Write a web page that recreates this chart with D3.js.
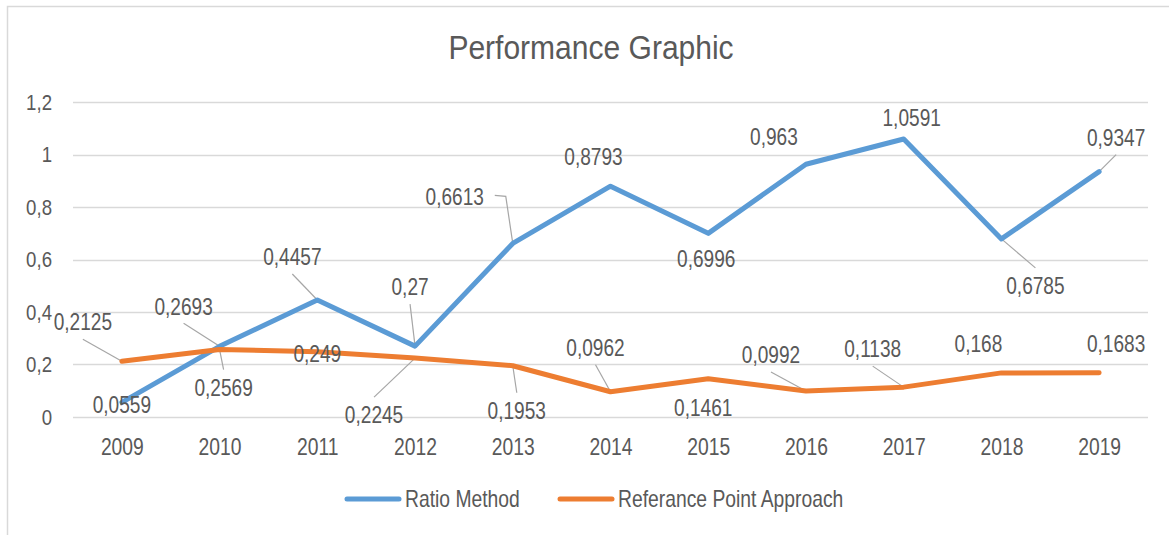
<!DOCTYPE html>
<html>
<head>
<meta charset="utf-8">
<script src="https://cdn.jsdelivr.net/npm/d3@7/dist/d3.min.js"></script>
<style>
  html, body { margin: 0; padding: 0; background: #fff; }
  svg { display: block; }
  text { font-family: "Liberation Sans", Arial, sans-serif; fill: #595959; }
</style>
</head>
<body>
<svg id="chart" width="1169" height="535"></svg>
<script>
// ---- data ----
const years = ["2009","2010","2011","2012","2013","2014","2015","2016","2017","2018","2019"];
const ratioMethod = [0.0559, 0.2693, 0.4457, 0.27, 0.6613, 0.8793, 0.6996, 0.963, 1.0591, 0.6785, 0.9347];
const referencePoint = [0.2125, 0.2569, 0.249, 0.2245, 0.1953, 0.0962, 0.1461, 0.0992, 0.1138, 0.168, 0.1683];
const yTicks = [0, 0.2, 0.4, 0.6, 0.8, 1, 1.2];
const seriesNames = ["Ratio Method", "Referance Point Approach"];
const title = "Performance Graphic";

// label placement (offset of label centre from its point, leader type: 0 none, 1 straight, 2 elbow)
const ratioLabelLayout = [
  [0, 2, 0], [-36, -40, 1], [-25, -43, 1], [-5, -59, 1], [-58, -47, 2], [-17, -29, 0],
  [-2, 25, 0], [-32, -27, 0], [8, -21, 0], [34, 47, 1], [17, -34, 1]
];
const refLabelLayout = [
  [-39, -39, 1], [4, 38, 1], [0, 2, 0], [-41, 57, 1], [4, 45, 1], [-15, -44, 1],
  [-5, 29, 0], [-35, -36, 1], [-31, -38, 1], [-23, -29, 0], [17, -29, 0]
];

const colors = ["#5B9BD5", "#ED7D31"];
const fmt = v => String(v).replace(".", ",");

const svg = d3.select("#chart");

// frame
svg.append("rect").attr("x", 7.5).attr("y", 6.5).attr("width", 1200).attr("height", 600)
  .attr("fill", "none").attr("stroke", "#d9d9d9").attr("stroke-width", 1.5);

const x = d3.scalePoint().domain(years).range([73, 1148]).padding(0.5);
const y = d3.scaleLinear().domain([0, 1.2]).range([417, 102]);

// title
svg.append("text").attr("transform", "translate(591,59) scale(0.91,1)").attr("text-anchor", "middle")
  .style("font-size", "33px").text(title);

// grid
svg.append("g").selectAll("line").data(yTicks).join("line")
  .attr("x1", 73).attr("x2", 1148)
  .attr("y1", d => Math.round(y(d)) + 0.5).attr("y2", d => Math.round(y(d)) + 0.5)
  .attr("stroke", "#d9d9d9").attr("stroke-width", 1.5);

// y axis labels
const yAxis = d3.axisLeft(y).tickValues(yTicks).tickSize(0).tickPadding(0).tickFormat(d => fmt(d));
const gy = svg.append("g").attr("transform", "translate(52,0)").call(yAxis);
gy.select(".domain").remove();
gy.selectAll("text").style("font-size", "23px").attr("fill", "#595959").attr("font-family", null)
  .attr("transform", "scale(0.81,1)");

// x axis labels
const xAxis = d3.axisBottom(x).tickSize(0).tickPadding(0);
const gx = svg.append("g").attr("transform", "translate(0,439)").call(xAxis);
gx.select(".domain").remove();
gx.selectAll("text").style("font-size", "23px").attr("fill", "#595959").attr("font-family", null)
  .attr("dy", "0.71em").attr("transform", "scale(0.84,1)");

// lines
const line = d3.line().x((d, i) => x(years[i])).y(d => y(d));
[ratioMethod, referencePoint].forEach((s, k) => {
  svg.append("path").datum(s).attr("d", line).attr("fill", "none")
    .attr("stroke", colors[k]).attr("stroke-width", 5)
    .attr("stroke-linejoin", "round").attr("stroke-linecap", "round");
});

// labels
const labelG = svg.append("g");
const leaderG = svg.insert("g", "path");
[[ratioMethod, ratioLabelLayout], [referencePoint, refLabelLayout]].forEach(([s, lay]) => {
  s.forEach((v, i) => {
    const px = x(years[i]), py = y(v);
    const [dx, dy, lt] = lay[i];
    const cx = px + dx, cy = py + dy;
    labelG.append("text").attr("transform", `translate(${cx},${cy}) scale(0.83,1)`).attr("dy", "0.36em")
      .attr("text-anchor", "middle").style("font-size", "23px").text(fmt(v));
    if (lt === 1) {
      const sy = cy + (py > cy ? 17 : -18);
      leaderG.append("line").attr("x1", cx).attr("y1", sy).attr("x2", px).attr("y2", py)
        .attr("stroke", "#a6a6a6").attr("stroke-width", 1.2);
    } else if (lt === 2) {
      const sx = cx + 40;
      leaderG.append("polyline").attr("points", `${sx},${cy - 1} ${px - 7},${cy} ${px},${py}`)
        .attr("fill", "none").attr("stroke", "#a6a6a6").attr("stroke-width", 1.2);
    }
  });
});

// legend
const legend = svg.append("g");
const legendItems = [{ x: 347, name: seriesNames[0], c: colors[0] }, { x: 560, name: seriesNames[1], c: colors[1] }];
legendItems.forEach(it => {
  legend.append("line").attr("x1", it.x).attr("x2", it.x + 52).attr("y1", 499).attr("y2", 499)
    .attr("stroke", it.c).attr("stroke-width", 5).attr("stroke-linecap", "round");
  legend.append("text").attr("transform", `translate(${it.x + 58},499) scale(0.84,1)`).attr("dy", "0.36em")
    .style("font-size", "23px").text(it.name);
});
</script>
</body>
</html>
